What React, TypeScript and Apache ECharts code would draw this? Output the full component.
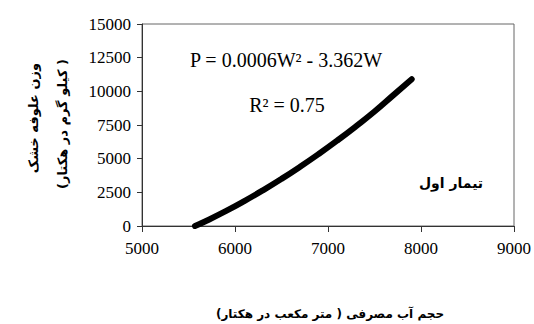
import React, { useEffect, useRef } from "react";
import * as echarts from "echarts";

const waterUse = [5570, 5700, 5900, 6100, 6300, 6500, 6700, 6900, 7100, 7300, 7500, 7700, 7900];
const dryMatter = [0, 410, 1100, 1850, 2650, 3500, 4400, 5350, 6350, 7400, 8500, 9700, 10900];
const equationText = "P = 0.0006W² - 3.362W";
const r2Text = "R² = 0.75";
const treatmentText = "تیمار اول";
const xTitle = "\u202Bحجم آب مصرفی ( متر مکعب در هکتار)\u202C";
const yTitle1 = "\u202Bوزن علوفه خشک\u202C";
const yTitle2 = "\u202B( کیلو گرم در هکتار)\u202C";

export default function App() {
  const ref = useRef<HTMLDivElement>(null);
  useEffect(() => {
    document.body.style.margin = "0";
    const chart = echarts.init(ref.current!, null, { renderer: "svg" });
    const serif = "Liberation Serif";
    const arab = "DejaVu Sans";
    const labelStyle = {
      color: "#000",
      fontFamily: "'Liberation Serif', 'Times New Roman', serif",
      fontSize: 17,
      formatter: (v: number) => String(v),
    };
    chart.setOption({
      animation: false,
      backgroundColor: "#fff",
      textStyle: { fontFamily: "'Liberation Serif', serif" },
      grid: {
        left: 142,
        right: 19,
        top: 24,
        bottom: 98,
        show: true,
        borderColor: "#666",
        borderWidth: 1,
      },
      xAxis: {
        type: "value",
        min: 5000,
        max: 9000,
        interval: 1000,
        axisLine: { show: true, lineStyle: { color: "#333", width: 1 } },
        axisTick: { show: true, inside: false, length: 6, lineStyle: { color: "#333" } },
        axisLabel: { ...labelStyle, margin: 14 },
        splitLine: { show: false },
      },
      yAxis: {
        type: "value",
        min: 0,
        max: 15000,
        interval: 2500,
        axisLine: { show: true, lineStyle: { color: "#333", width: 1 } },
        axisTick: { show: true, inside: false, length: 5, lineStyle: { color: "#333" } },
        axisLabel: { ...labelStyle, margin: 11 },
        splitLine: { show: false },
      },
      series: [
        {
          type: "line",
          data: waterUse.map((w, i) => [w, dryMatter[i]]),
          smooth: true,
          showSymbol: false,
          lineStyle: { color: "#000", width: 6, cap: "round" },
        },
      ],
      graphic: [
        {
          type: "text",
          x: 286,
          y: 60,
          style: {
            text: equationText,
            fill: "#000",
            font: `20px '${serif}'`,
            textAlign: "center",
            textVerticalAlign: "middle",
          },
        },
        {
          type: "text",
          x: 287,
          y: 105,
          style: {
            text: r2Text,
            fill: "#000",
            font: `20px '${serif}'`,
            textAlign: "center",
            textVerticalAlign: "middle",
          },
        },
        {
          type: "text",
          x: 451,
          y: 183,
          style: {
            text: treatmentText,
            fill: "#000",
            font: `bold 14px '${arab}'`,
            textAlign: "center",
            textVerticalAlign: "middle",
          },
        },
        {
          type: "text",
          x: 330,
          y: 314,
          style: {
            text: xTitle,
            fill: "#000",
            font: `bold 12px '${arab}'`,
            textAlign: "center",
            textVerticalAlign: "middle",
          },
        },
        {
          type: "text",
          x: 33,
          y: 118,
          rotation: Math.PI / 2,
          style: {
            text: yTitle1,
            fill: "#000",
            font: `bold 13px '${arab}'`,
            textAlign: "center",
            textVerticalAlign: "middle",
          },
        },
        {
          type: "text",
          x: 62,
          y: 124,
          rotation: Math.PI / 2,
          style: {
            text: yTitle2,
            fill: "#000",
            font: `bold 13px '${arab}'`,
            textAlign: "center",
            textVerticalAlign: "middle",
          },
        },
      ],
    });
    return () => chart.dispose();
  }, []);
  return <div ref={ref} style={{ width: 534, height: 324 }} />;
}
